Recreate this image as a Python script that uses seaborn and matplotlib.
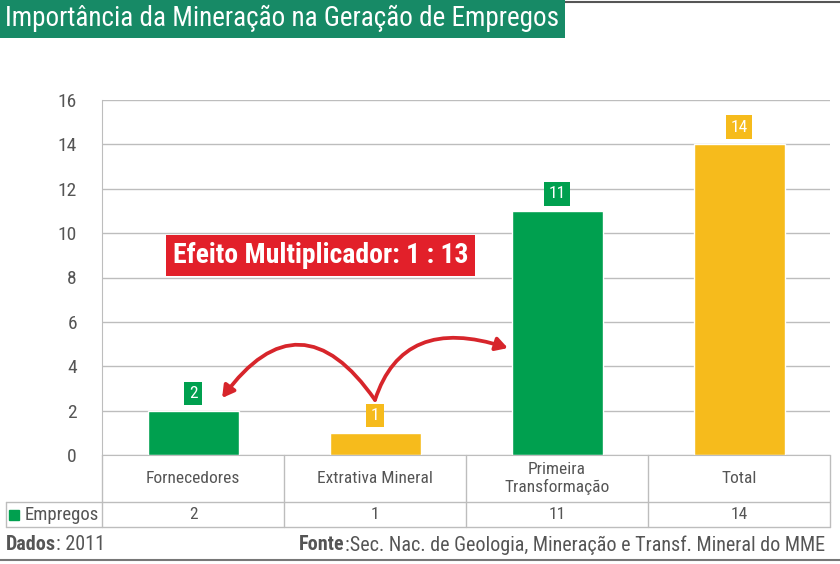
import matplotlib
matplotlib.use("Agg")
import matplotlib.pyplot as plt
import seaborn as sns
from matplotlib.patches import FancyArrowPatch

# Data
categories = ["Fornecedores", "Extrativa Mineral", "Primeira\nTransformação", "Total"]
empregos = [2, 1, 11, 14]
series_name = "Empregos"

green = "#00a04f"
yellow = "#f6bb1c"
bar_colors = [green, yellow, green, yellow]
text_gray = "#555555"
line_gray = "#bdbdbd"

sns.set_style("white")
plt.rcParams['font.family'] = ['Liberation Sans Narrow', 'Roboto Condensed', 'DejaVu Sans']

fig = plt.figure(figsize=(8.4, 5.64), dpi=100)
ax = fig.add_axes([102 / 840, 109 / 564, 728 / 840, 355 / 564])

sns.barplot(x=list(range(len(categories))), y=empregos, hue=list(range(len(categories))),
            palette=bar_colors, legend=False, width=0.5, saturation=1, ax=ax)

ax.set_xlim(-0.5, len(categories) - 0.5)
ax.set_ylim(0, 16)
ax.set_yticks(range(0, 17, 2))
ax.yaxis.grid(True, color=line_gray, lw=1)
ax.set_axisbelow(True)
ax.set_xticks([])
ax.set_xlabel("")
ax.set_ylabel("")
ax.tick_params(axis='y', length=0, pad=18, labelsize=14, labelcolor=text_gray)
for side in ["top", "right"]:
    ax.spines[side].set_visible(False)
ax.spines["left"].set_color(line_gray)
ax.spines["bottom"].set_color(line_gray)

# value labels in boxes
for i, v in enumerate(empregos):
    ax.annotate(str(v), (i, v), xytext=(0, 7), textcoords="offset points",
                ha="center", va="bottom", fontsize=12.5, color="white",
                bbox=dict(boxstyle="square,pad=0.25", fc=bar_colors[i], ec="none"))

# table below the axis
row1 = -47 / 355
row2 = -72 / 355
left_edge = -96 / 728
kw = dict(transform=ax.transAxes, color=line_gray, lw=1, clip_on=False)
ax.plot([left_edge, 1], [row1, row1], **kw)
ax.plot([left_edge, 1], [row2, row2], **kw)
ax.plot([left_edge, left_edge], [row1, row2], **kw)
ax.plot([0, 0], [0, row2], **kw)
ax.plot([1, 1], [0, row2], **kw)
for k in range(1, len(categories)):
    xa = k / len(categories)
    ax.plot([xa, xa], [0, row2], **kw)

for i, (cat, v) in enumerate(zip(categories, empregos)):
    xa = (i + 0.5) / len(categories)
    ax.text(xa, row1 / 2, cat, transform=ax.transAxes, ha="center", va="center",
            fontsize=12.5, color=text_gray, linespacing=1.2)
    ax.text(xa, (row1 + row2) / 2, str(v), transform=ax.transAxes, ha="center",
            va="center", fontsize=12.5, color=text_gray)

ax.plot([-88 / 728], [(row1 + row2) / 2], marker="s", ms=7, color=green,
        transform=ax.transAxes, clip_on=False)
ax.text(-77 / 728, (row1 + row2) / 2, series_name, transform=ax.transAxes,
        ha="left", va="center", fontsize=13.5, color=text_gray)

# multiplier label
ax.text(0.70, 9.0, "Efeito Multiplicador: 1 : 13", ha="center", va="center",
        fontsize=20, fontweight="bold", color="white",
        bbox=dict(boxstyle="square,pad=0.25", fc="#e2202a", ec="none"))

# curved arrows from Extrativa Mineral
arrow_color = "#d7252b"
a1 = FancyArrowPatch((1.0, 2.48), (0.16, 2.57), connectionstyle="arc3,rad=0.7",
                     arrowstyle="-|>,head_length=7,head_width=4", color=arrow_color,
                     lw=2.7, shrinkA=0, shrinkB=0)
a2 = FancyArrowPatch((1.0, 2.48), (1.73, 4.82), connectionstyle="angle3,angleA=72,angleB=162",
                     arrowstyle="-|>,head_length=7,head_width=4", color=arrow_color,
                     lw=2.7, shrinkA=0, shrinkB=0)
ax.add_patch(a1)
ax.add_patch(a2)

# title
fig.text(0.006, 0.967, "Importância da Mineração na Geração de Empregos", ha="left",
         va="center", fontsize=19.5, color="white",
         bbox=dict(boxstyle="square,pad=0.2", fc="#178a66", ec="none"))
fig.add_artist(plt.Line2D([560 / 840, 1], [1 - 2 / 564, 1 - 2 / 564], color="#555555", lw=1.5))

# footer
dados = fig.text(6 / 840, 1 - 545 / 564, "Dados", ha="left", va="center", fontsize=14.5,
                 fontweight="bold", color=text_gray)
fonte_rest = fig.text(825 / 840, 1 - 545 / 564,
                      ":Sec. Nac. de Geologia, Mineração e Transf. Mineral do MME",
                      ha="right", va="center", fontsize=14.5, color=text_gray)
ax.annotate(": 2011", xy=(1, 0.5), xycoords=dados, ha="left", va="center",
            fontsize=14.5, color=text_gray, annotation_clip=False)
ax.annotate("Fonte", xy=(0, 0.5), xycoords=fonte_rest, ha="right", va="center",
            fontsize=14.5, fontweight="bold", color=text_gray, annotation_clip=False)
fig.add_artist(plt.Line2D([0, 1], [1 - 560 / 564, 1 - 560 / 564], color="#777777", lw=1.5))

fig.savefig("out.png", dpi=100, facecolor="white")
